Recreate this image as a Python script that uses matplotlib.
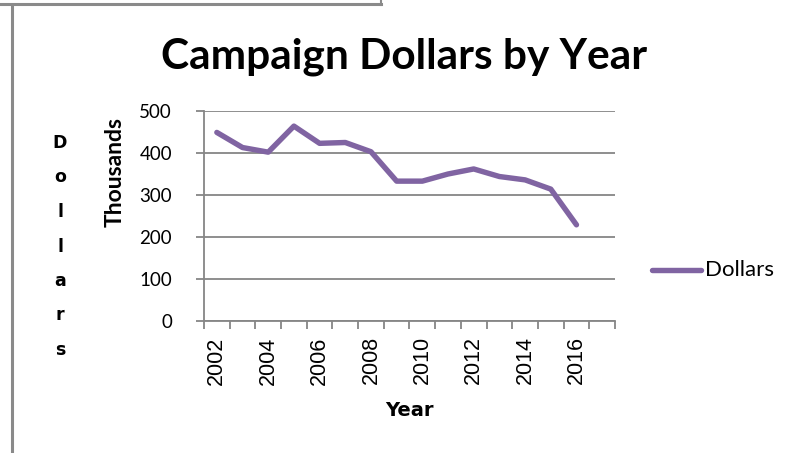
import numpy as np
import matplotlib.pyplot as plt
from matplotlib.lines import Line2D

years = [str(y) for y in range(2002, 2018)]
dollars = [449, 413, 402, 464, 423, 425, 403, 333, 333, 350, 362, 344, 336, 314, 229]
y_ticks = [0, 100, 200, 300, 400, 500]

grid_col = '#868686'
line_col = '#8064A2'

fig = plt.figure(figsize=(7.99, 4.53), dpi=100)
fig.patch.set_facecolor('white')

# window frame bits from the screenshot
fig.add_artist(Line2D([0, 381/799], [1-4/453, 1-4/453], color='#8a8a8a', lw=2.2))
fig.add_artist(Line2D([381/799, 381/799], [1, 1-5/453], color='#8a8a8a', lw=1.5))
fig.add_artist(Line2D([12/799, 12/799], [0, 1-7/453], color='#8a8a8a', lw=2.2))

ax = fig.add_axes([204/799, 1-321/453, 411/799, 210/453])
x = np.arange(len(dollars))
ax.plot(x, dollars, color=line_col, lw=3.9, solid_capstyle='round', solid_joinstyle='round')

ax.set_xlim(-0.5, len(years) - 0.5)
ax.set_ylim(0, 500)
ax.set_yticks(y_ticks)
ax.set_yticklabels([str(v) for v in y_ticks], fontfamily='Lato', fontsize=13.5)
ax.yaxis.grid(True, color=grid_col, lw=1.3)
ax.set_axisbelow(True)

ax.set_xticks(np.arange(len(years) + 1) - 0.5)
ax.set_xticklabels([])
ax.set_xticks(x[::2], minor=True)
ax.set_xticklabels(years[::2], minor=True, rotation=90, fontfamily='Liberation Sans', fontsize=15.5)
ax.tick_params(axis='x', which='major', length=6, color=grid_col, width=1.3, direction='out')
ax.tick_params(axis='x', which='minor', length=0, pad=11)
ax.tick_params(axis='y', length=6, color=grid_col, width=1.3, pad=17)

for s in ['top', 'right']:
    ax.spines[s].set_visible(False)
for s in ['left', 'bottom']:
    ax.spines[s].set_color(grid_col)
    ax.spines[s].set_linewidth(1.3)

fig.text(404/799, 1-68/453, 'Campaign Dollars by Year', ha='center', va='baseline',
         fontfamily='Lato', fontweight='bold', fontsize=30.5)
fig.text(115/799, 1-172/453, 'Thousands', ha='center', va='center', rotation=90,
         fontfamily='Lato', fontweight='bold', fontsize=16.5)
fig.text(409/799, 1-410/453, 'Year', ha='center', va='center',
         fontfamily='DejaVu Sans', fontweight='bold', fontsize=14)
for i, ch in enumerate('Dollars'):
    fig.text(60/799, 1-(143 + 34.5*i)/453, ch, ha='center', va='center',
             fontfamily='DejaVu Sans', fontweight='bold', fontsize=12.5)

# legend
fig.add_artist(Line2D([652/799, 701/799], [1-270/453, 1-270/453], color=line_col, lw=3.9,
                      solid_capstyle='round'))
fig.text(705/799, 1-270/453, 'Dollars', ha='left', va='center', fontfamily='Lato', fontsize=16)

fig.savefig('out.png', dpi=100, facecolor='white')
